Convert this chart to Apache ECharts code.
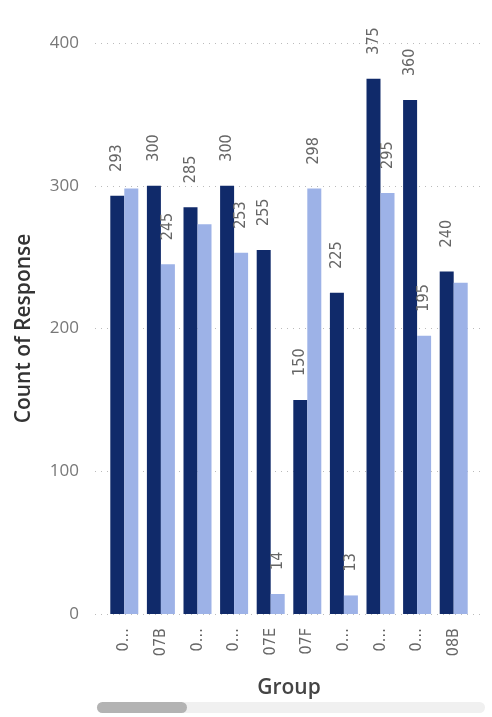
<!DOCTYPE html>
<html>
<head>
<meta charset="utf-8">
<script src="https://cdn.jsdelivr.net/npm/echarts@6/dist/echarts.min.js"></script>
<style>
  html, body { margin: 0; padding: 0; background: #fff; }
  #chart { width: 492px; height: 717px; }
</style>
</head>
<body>
<div id="chart"></div>
<script>
// values
const categories = ["0…", "07B", "0…", "0…", "07E", "07F", "0…", "0…", "0…", "08B"];
const darkValues = [293, 300, 285, 300, 255, 150, 225, 375, 360, 240];
const lightValues = [298, 245, 273, 253, 14, 298, 13, 295, 195, 232];
// the light series only shows some of its labels
const lightLabelShown = [false, true, false, true, true, true, true, true, true, false];
const yTicks = { min: 0, max: 400, interval: 100 };

const labelFont = '"Liberation Sans Narrow", "DejaVu Sans Condensed", Roboto, sans-serif';

const chart = echarts.init(document.getElementById("chart"));

const barLabel = {
  show: true,
  position: "top",
  rotate: 90,
  align: "left",
  verticalAlign: "middle",
  distance: 24,
  color: "#666",
  fontSize: 16,
  fontFamily: labelFont,
};

const option = {
  animation: false,
  textStyle: { fontFamily: '"Open Sans", "Noto Sans", sans-serif' },
  grid: [
    { left: 95, right: 7, top: 43, bottom: 103 },
    { left: 106, width: 366, top: 43, bottom: 103 },
  ],
  xAxis: [
    { gridIndex: 0, type: "category", data: categories, show: false },
    {
      gridIndex: 1,
      type: "category",
      data: categories,
      axisLine: { show: false },
      axisTick: { show: false },
      axisLabel: {
        rotate: 90,
        margin: 14,
        color: "#666",
        fontSize: 16,
        fontFamily: labelFont,
        interval: 0,
      },
      name: "Group",
      nameLocation: "middle",
      nameGap: 64,
      nameTextStyle: { color: "#444", fontSize: 21, fontWeight: 600 },
    },
  ],
  yAxis: [
    {
      gridIndex: 0,
      type: "value",
      min: yTicks.min,
      max: yTicks.max,
      interval: yTicks.interval,
      axisLine: { show: false },
      axisTick: { show: false },
      axisLabel: { color: "#777", fontSize: 17, margin: 16 },
      splitLine: {
        lineStyle: { color: "#bbb", type: [1, 5], width: 1 },
      },
      name: "Count of Response",
      nameLocation: "middle",
      nameGap: 60,
      nameTextStyle: { color: "#333", fontSize: 21, fontWeight: 600 },
    },
    {
      gridIndex: 1,
      type: "value",
      min: yTicks.min,
      max: yTicks.max,
      interval: yTicks.interval,
      show: false,
      splitLine: { show: false },
    },
  ],
  series: [
    {
      name: "Series 1",
      type: "bar",
      xAxisIndex: 1,
      yAxisIndex: 1,
      barWidth: 14,
      barGap: "0%",
      data: darkValues,
      itemStyle: { color: "#102a6a" },
      label: barLabel,
    },
    {
      name: "Series 2",
      type: "bar",
      xAxisIndex: 1,
      yAxisIndex: 1,
      barWidth: 14,
      barGap: "0%",
      data: lightValues.map((v, i) => ({
        value: v,
        label: { show: lightLabelShown[i] },
      })),
      itemStyle: { color: "#9db2e7" },
      label: barLabel,
    },
  ],
  // scrollbar under the axis
  graphic: [
    {
      type: "rect",
      shape: { x: 97, y: 702, width: 388, height: 11, r: 5.5 },
      style: { fill: "#f0f0f0" },
    },
    {
      type: "rect",
      shape: { x: 97, y: 702, width: 90, height: 11, r: 5.5 },
      style: { fill: "#b3b3b3" },
    },
  ],
};

chart.setOption(option);
</script>
</body>
</html>
